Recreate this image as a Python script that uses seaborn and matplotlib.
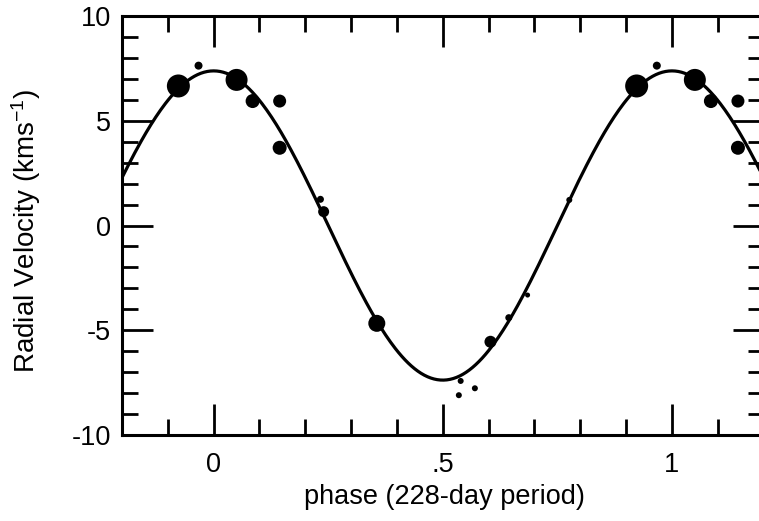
import numpy as np
import pandas as pd
import matplotlib
matplotlib.use("Agg")
import matplotlib.pyplot as plt
import seaborn as sns
from matplotlib.ticker import MultipleLocator, FixedLocator, FixedFormatter

# Observations (phase, radial velocity km/s, marker diameter in px)
phase = [-0.077, -0.033, 0.050, 0.085, 0.144, 0.144, 0.233, 0.240, 0.356,
         0.539, 0.535, 0.570, 0.604, 0.644, 0.685, 0.776,
         0.923, 0.967, 1.050, 1.085, 1.144, 1.144]
velocity = [6.66, 7.63, 6.95, 5.94, 5.94, 3.71, 1.25, 0.66, -4.67,
            -7.42, -8.10, -7.77, -5.55, -4.40, -3.32, 1.22,
            6.66, 7.63, 6.95, 5.94, 5.94, 3.71]
diam_px = [23, 8, 22, 14, 13, 14, 7, 11, 17,
           6, 6, 6, 12, 7, 5, 6,
           23, 8, 22, 14, 13, 14]

# Fitted orbit model parameters
K_amp = 7.38      # semi-amplitude, km/s
phase0 = 0.0      # phase of maximum
v0 = 0.0          # systemic offset

sns.set_style("ticks")
plt.rcParams['font.family'] = ['Liberation Sans', 'DejaVu Sans']
plt.rcParams['text.color'] = 'black'
plt.rcParams['axes.labelcolor'] = 'black'
plt.rcParams['mathtext.default'] = 'regular'

fig = plt.figure(figsize=(7.59, 5.21), dpi=100)
ax = fig.add_axes([122/759, 1 - 435/521, (763.6-122)/759, (435-16)/521])

df = pd.DataFrame({"phase": phase, "velocity": velocity,
                   "s": [(d * 0.72) ** 2 for d in diam_px]})
sizes = {v: v for v in df["s"].unique()}

px = np.linspace(-0.2, 1.2, 400)
curve = pd.DataFrame({"phase": px,
                      "v": v0 + K_amp * np.cos(2 * np.pi * (px - phase0))})
sns.lineplot(data=curve, x="phase", y="v", ax=ax, color="black", lw=2.3)
sns.scatterplot(data=df, x="phase", y="velocity", size="s", sizes=sizes,
                color="black", edgecolor="none", legend=False, ax=ax, zorder=3)

ax.set_xlim(-0.2, 1.2)
ax.set_ylim(-10, 10)
ax.xaxis.set_major_locator(FixedLocator([0, 0.5, 1]))
ax.xaxis.set_major_formatter(FixedFormatter(["0", ".5", "1"]))
ax.xaxis.set_minor_locator(MultipleLocator(0.1))
ax.yaxis.set_major_locator(FixedLocator([-10, -5, 0, 5, 10]))
ax.yaxis.set_major_formatter(FixedFormatter(["-10", "-5", "0", "5", "10"]))
ax.yaxis.set_minor_locator(MultipleLocator(1))

ax.tick_params(which="both", direction="in", top=True, right=True,
               width=2.0, color="black", labelsize=19.5, labelcolor="black")
ax.tick_params(which="major", length=22)
ax.tick_params(which="minor", length=11.5)
ax.tick_params(axis="x", which="major", pad=12)
ax.tick_params(axis="y", which="major", pad=8)

for sp in ax.spines.values():
    sp.set_visible(True)
    sp.set_linewidth(2.2)
    sp.set_color("black")

ax.set_xlabel("phase (228-day period)", fontsize=19.5)
ax.xaxis.set_label_coords(0.503, -0.148, transform=ax.transAxes)
ax.xaxis.label.set_va("center")
ax.set_ylabel("Radial Velocity (kms$^{-1}$)", fontsize=20)
ax.yaxis.set_label_coords(-0.150, 0.487, transform=ax.transAxes)
ax.yaxis.label.set_va("center")

fig.savefig("out.png", dpi=100)
